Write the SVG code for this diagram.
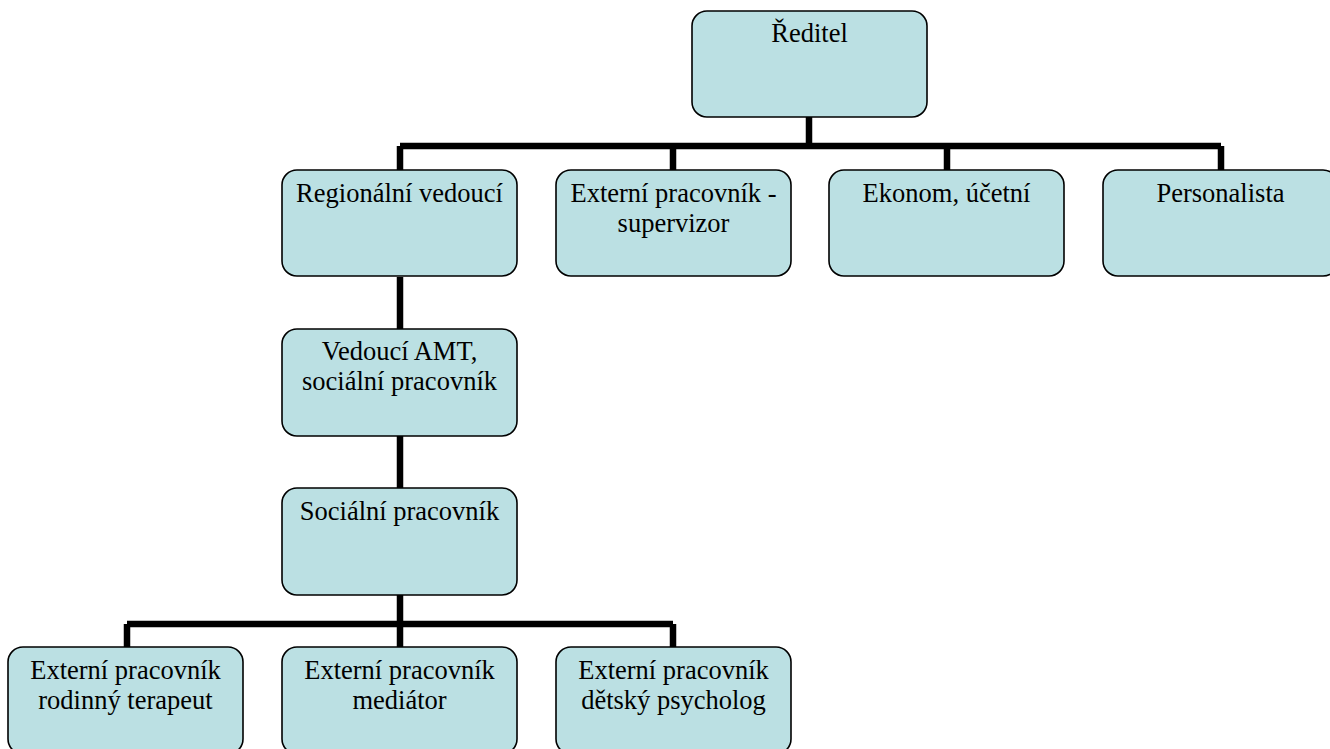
<svg xmlns="http://www.w3.org/2000/svg" width="1330" height="749" viewBox="0 0 1330 749">
<style>
.box{fill:#bbe0e3;stroke:#000;stroke-width:1.6}
.lbl{font-family:'Liberation Serif','Times New Roman',serif;font-size:26.5px;fill:#000;text-anchor:middle}
.con{fill:none;stroke:#000;stroke-width:6.5;stroke-linecap:butt;stroke-linejoin:miter}
</style>
<rect width="1330" height="749" fill="#fff"/>
<g id="connectors">
<path class="con" d="M809 117V146M400 146H1221M400 146V170M673 146V170M947 146V170M1221 146V170"/>
<path class="con" d="M400 277V329M400 436V488"/>
<path class="con" d="M400 595V624M127 624H673M127 624V647M400 624V647M673 624V647"/>
</g>
<g id="n-reditel"><rect class="box" x="692" y="11" width="235" height="106" rx="15"/><text class="lbl" x="809.5" y="42">Ředitel</text></g>
<g id="n-regionalni"><rect class="box" x="282" y="170" width="235" height="106" rx="15"/><text class="lbl" x="399.5" y="202">Regionální vedoucí</text></g>
<g id="n-supervizor"><rect class="box" x="556" y="170" width="235" height="106" rx="15"/><text class="lbl" x="673.5" y="202">Externí pracovník -</text><text class="lbl" x="673.5" y="232">supervizor</text></g>
<g id="n-ekonom"><rect class="box" x="829" y="170" width="235" height="106" rx="15"/><text class="lbl" x="946.5" y="202">Ekonom, účetní</text></g>
<g id="n-personalista"><rect class="box" x="1103" y="170" width="235" height="106" rx="15"/><text class="lbl" x="1220.5" y="202">Personalista</text></g>
<g id="n-vedouci-amt"><rect class="box" x="282" y="329" width="235" height="107" rx="15"/><text class="lbl" x="399.5" y="360">Vedoucí AMT,</text><text class="lbl" x="399.5" y="390">sociální pracovník</text></g>
<g id="n-socialni"><rect class="box" x="282" y="488" width="235" height="107" rx="15"/><text class="lbl" x="399.5" y="520">Sociální pracovník</text></g>
<g id="n-terapeut"><rect class="box" x="8" y="647" width="235" height="107" rx="15"/><text class="lbl" x="125.5" y="679">Externí pracovník</text><text class="lbl" x="125.5" y="709">rodinný terapeut</text></g>
<g id="n-mediator"><rect class="box" x="282" y="647" width="235" height="107" rx="15"/><text class="lbl" x="399.5" y="679">Externí pracovník</text><text class="lbl" x="399.5" y="709">mediátor</text></g>
<g id="n-psycholog"><rect class="box" x="556" y="647" width="235" height="107" rx="15"/><text class="lbl" x="673.5" y="679">Externí pracovník</text><text class="lbl" x="673.5" y="709">dětský psycholog</text></g>
</svg>
